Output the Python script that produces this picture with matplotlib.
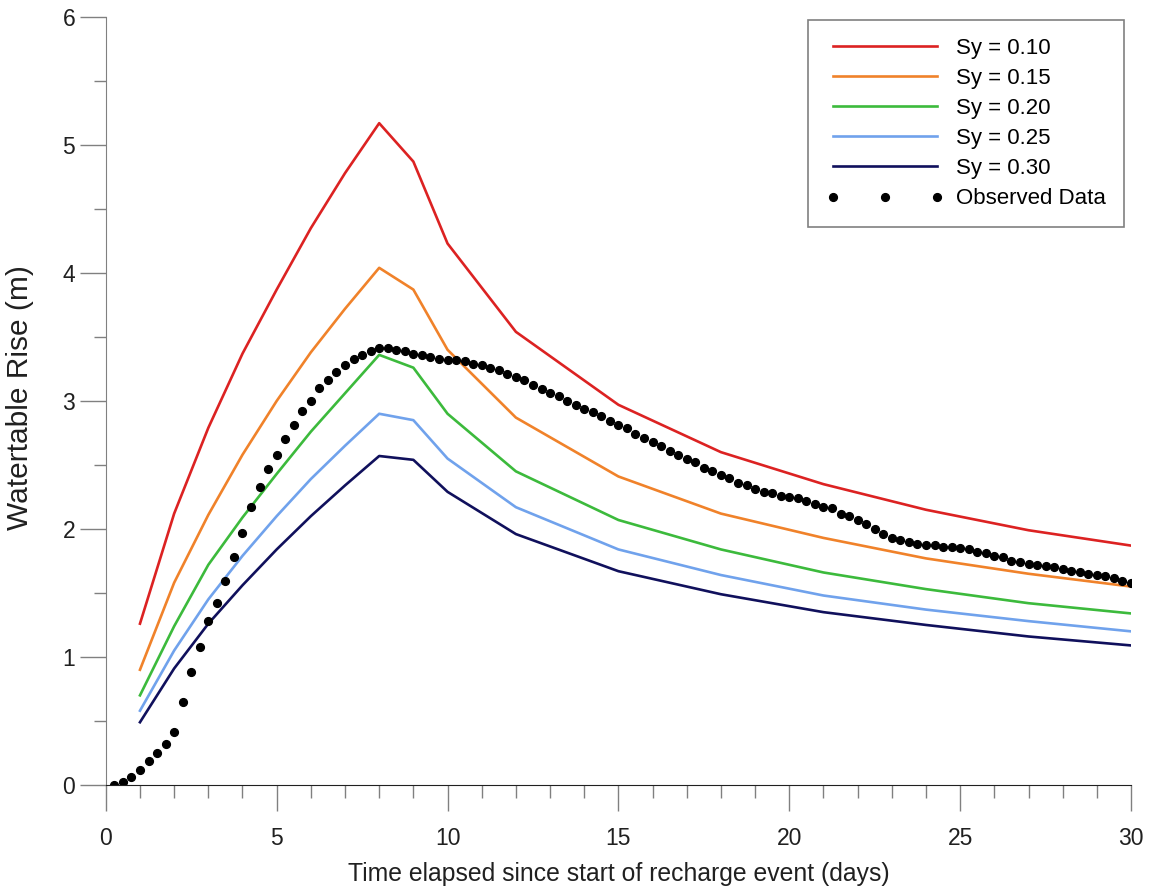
import numpy as np
import matplotlib
matplotlib.use("Agg")
import matplotlib.pyplot as plt
from matplotlib.ticker import MultipleLocator

plt.rcParams['font.family'] = ['Liberation Sans', 'DejaVu Sans']

# model runs
days = [1, 2, 3, 4, 5, 6, 7, 8, 9, 10, 12, 15, 18, 21, 24, 27, 30]
sy_010 = [1.26, 2.12, 2.79, 3.37, 3.87, 4.35, 4.78, 5.17, 4.87, 4.23, 3.54, 2.97, 2.60, 2.35, 2.15, 1.99, 1.87]
sy_015 = [0.90, 1.58, 2.11, 2.58, 3.00, 3.38, 3.72, 4.04, 3.87, 3.40, 2.87, 2.41, 2.12, 1.93, 1.77, 1.65, 1.55]
sy_020 = [0.70, 1.24, 1.72, 2.09, 2.43, 2.76, 3.06, 3.36, 3.26, 2.90, 2.45, 2.07, 1.84, 1.66, 1.53, 1.42, 1.34]
sy_025 = [0.58, 1.05, 1.45, 1.79, 2.10, 2.39, 2.65, 2.90, 2.85, 2.55, 2.17, 1.84, 1.64, 1.48, 1.37, 1.28, 1.20]
sy_030 = [0.49, 0.91, 1.26, 1.56, 1.84, 2.10, 2.34, 2.57, 2.54, 2.29, 1.96, 1.67, 1.49, 1.35, 1.25, 1.16, 1.09]
labels = ['Sy = 0.10', 'Sy = 0.15', 'Sy = 0.20', 'Sy = 0.25', 'Sy = 0.30']
colors = ['#dc2222', '#f0822a', '#3cba3c', '#70a2ec', '#10105c']

# observed, every 0.25 day
obs_t = np.arange(1, 121) * 0.25
obs_h = [0.00, 0.02, 0.06, 0.12, 0.19, 0.25, 0.32, 0.41, 0.65, 0.88,
         1.08, 1.28, 1.42, 1.59, 1.78, 1.97, 2.17, 2.33, 2.47, 2.58,
         2.70, 2.81, 2.92, 3.00, 3.10, 3.16, 3.23, 3.28, 3.33, 3.36,
         3.39, 3.41, 3.41, 3.40, 3.39, 3.37, 3.36, 3.34, 3.33, 3.32,
         3.32, 3.31, 3.29, 3.28, 3.26, 3.24, 3.21, 3.19, 3.16, 3.125,
         3.09, 3.06, 3.04, 3.00, 2.97, 2.94, 2.91, 2.88, 2.84, 2.81,
         2.79, 2.74, 2.71, 2.68, 2.65, 2.61, 2.58, 2.55, 2.52, 2.48,
         2.45, 2.42, 2.40, 2.36, 2.34, 2.31, 2.29, 2.28, 2.26, 2.25,
         2.24, 2.22, 2.195, 2.17, 2.16, 2.12, 2.10, 2.07, 2.04, 2.00,
         1.96, 1.93, 1.91, 1.90, 1.88, 1.875, 1.875, 1.86, 1.86, 1.85,
         1.84, 1.82, 1.81, 1.79, 1.78, 1.75, 1.74, 1.73, 1.72, 1.71,
         1.70, 1.685, 1.675, 1.66, 1.65, 1.64, 1.63, 1.615, 1.59, 1.58]

fig = plt.figure(figsize=(11.5, 8.92), dpi=100)
ax = fig.add_axes([0.092, 0.12, 0.8915, 0.861])

for ys, lab, c in zip([sy_010, sy_015, sy_020, sy_025, sy_030], labels, colors):
    ax.plot(days, ys, '-', color=c, linewidth=1.9, label=lab)
ax.plot(obs_t, obs_h, 'o', color='black', markersize=5.6, label='Observed Data')

ax.set_xlim(0, 30)
ax.set_ylim(0, 6)
ax.xaxis.set_major_locator(MultipleLocator(5))
ax.xaxis.set_minor_locator(MultipleLocator(1))
ax.yaxis.set_major_locator(MultipleLocator(1))
ax.yaxis.set_minor_locator(MultipleLocator(0.5))

for s in ['top', 'right']:
    ax.spines[s].set_visible(False)
ax.spines['left'].set_color('#808080')
ax.spines['bottom'].set_color('#202020')
ax.tick_params(which='major', length=19, width=1, color='#808080', labelsize=16.5, labelcolor='#202020')
ax.tick_params(which='minor', length=9, width=1, color='#808080')
ax.tick_params(axis='x', which='major', pad=11)
ax.tick_params(axis='y', which='major', pad=3)

ax.set_xlabel('Time elapsed since start of recharge event (days)', fontsize=17.8, labelpad=9, color='#202020')
ax.set_ylabel('Watertable Rise (m)', fontsize=21.5, color='#202020')
ax.yaxis.set_label_coords(-0.07, 0.505)

leg = ax.legend(loc='upper right', bbox_to_anchor=(0.993, 0.996), borderaxespad=0, fontsize=16,
                handlelength=5.3, handletextpad=0.55, labelspacing=0.41,
                borderpad=0.8, numpoints=3, fancybox=False, framealpha=1)
leg.get_frame().set_edgecolor('#808080')
leg.get_frame().set_linewidth(1.2)

fig.savefig('out.png', dpi=100)
